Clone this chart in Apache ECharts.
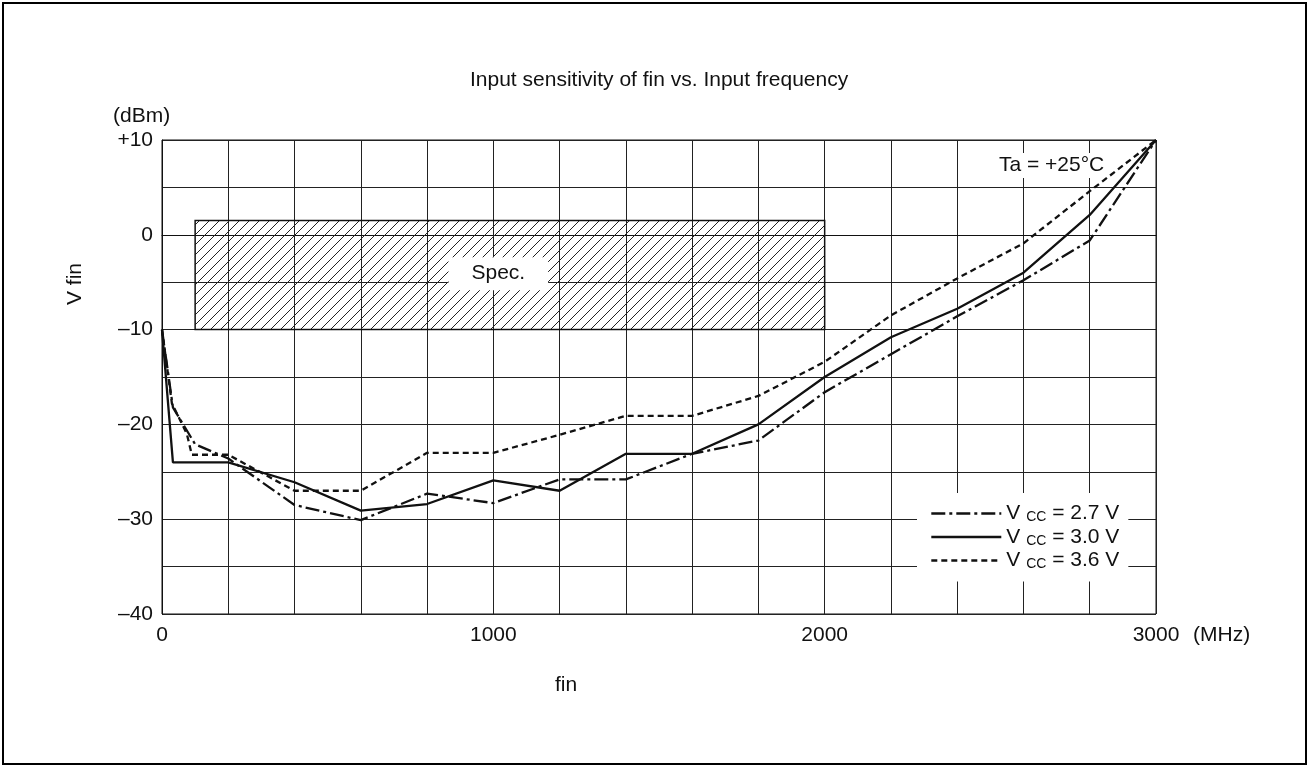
<!DOCTYPE html>
<html>
<head>
<meta charset="utf-8">
<script src="https://cdn.jsdelivr.net/npm/echarts@6/dist/echarts.min.js"></script>
<style>
html,body{margin:0;padding:0;background:#fff;}
#chart{width:1307px;height:766px;}
</style>
</head>
<body>
<div id="chart"></div>
<script>
// ---- data ----
const freq27 = [0, 33, 100, 200, 400, 600, 800, 1000, 1200, 1400, 1600, 1800, 2000, 2200, 2400, 2600, 2800, 3000];
const vcc27  = [-10, -18.2, -22.1, -23.6, -28.5, -30.1, -27.3, -28.3, -25.8, -25.8, -23.1, -21.7, -16.6, -12.6, -8.6, -4.8, -0.6, 10];

const freq30 = [0, 33, 200, 400, 600, 800, 1000, 1200, 1400, 1600, 1800, 2000, 2200, 2400, 2600, 2800, 3000];
const vcc30  = [-10, -24.0, -24.0, -26.1, -29.1, -28.4, -25.9, -27.0, -23.1, -23.1, -20.0, -15.0, -10.8, -7.8, -4.0, 2.1, 10];

const freq36 = [0, 30, 75, 90, 200, 400, 600, 800, 1000, 1200, 1400, 1600, 1800, 2000, 2200, 2400, 2600, 2800, 3000];
const vcc36  = [-10, -17.8, -21.0, -23.2, -23.2, -27.0, -27.0, -23.0, -23.0, -21.1, -19.1, -19.1, -17.0, -13.4, -8.5, -4.6, -0.9, 4.6, 10];

const seriesNames = ['2.7 V', '3.0 V', '3.6 V'];
const specFreq = [100, 2000];
const specLevel = [-10, 1.5];
const xTickLabels = [0, 1000, 2000, 3000];
const yTickLabels = { '10': '+10', '0': '0', '-10': '–10', '-20': '–20', '-30': '–30', '-40': '–40' };

const FONT = "'Liberation Sans', Arial, sans-serif";
const INK = '#111';

function pairs(xs, ys) { return xs.map((x, i) => [x, ys[i]]); }

// hatch pattern
const pc = document.createElement('canvas');
pc.width = 10; pc.height = 10;
const g = pc.getContext('2d');
g.strokeStyle = '#222';
g.lineWidth = 1;
g.beginPath();
g.moveTo(-1, 11); g.lineTo(11, -1);
g.moveTo(-1, 1); g.lineTo(1, -1);
g.moveTo(9, 11); g.lineTo(11, 9);
g.stroke();

const chart = echarts.init(document.getElementById('chart'), null, { renderer: 'canvas' });

const lineTypes = [[14, 4, 3, 4], 'solid', [6, 4]];
const dataSets = [pairs(freq27, vcc27), pairs(freq30, vcc30), pairs(freq36, vcc36)];

const series = dataSets.map((d, i) => ({
  name: 'Vcc = ' + seriesNames[i],
  type: 'line',
  data: d,
  symbol: 'none',
  showSymbol: false,
  z: 5,
  lineStyle: { color: INK, width: 2.3, type: lineTypes[i] },
  itemStyle: { color: INK }
}));

series[1].markArea = {
  silent: true,
  z: 1,
  itemStyle: {
    color: { image: pc, repeat: 'repeat' },
    borderColor: INK,
    borderWidth: 1.5
  },
  label: { show: false },
  data: [[{ xAxis: specFreq[0], yAxis: specLevel[1] }, { xAxis: specFreq[1], yAxis: specLevel[0] }]]
};

series[1].markPoint = {
  silent: true,
  symbol: 'rect',
  symbolSize: 1,
  itemStyle: { color: 'rgba(0,0,0,0)' },
  label: {
    show: true,
    position: 'inside',
    color: INK,
    fontFamily: FONT,
    fontSize: 21,
    backgroundColor: '#fff',
    padding: [6, 23]
  },
  data: [
    { coord: [1015, -4.1], label: { formatter: 'Spec.' } },
    { coord: [2685, 7.3], label: { formatter: 'Ta = +25°C', padding: [2, 4] } }
  ]
};

const option = {
  animation: false,
  backgroundColor: '#fff',
  title: {
    text: 'Input sensitivity of fin vs. Input frequency',
    left: 470,
    top: 70,
    padding: 0,
    textStyle: { fontFamily: FONT, fontSize: 21, fontWeight: 'normal', color: INK }
  },
  grid: {
    left: 162, right: 151, top: 140, bottom: 152,
    show: true, borderColor: INK, borderWidth: 1, backgroundColor: 'transparent'
  },
  legend: {
    orient: 'vertical',
    left: 917,
    top: 493,
    padding: [10, 9, 10, 13],
    backgroundColor: '#fff',
    itemWidth: 70,
    itemHeight: 14,
    itemGap: 2,
    itemStyle: { opacity: 0, borderWidth: 0 },
    lineStyle: { width: 2.6 },
    data: series.map(s => ({ name: s.name })),
    formatter: function (name) {
      const v = name.split('= ')[1];
      return '{a|V }{b|CC}{a| = ' + v + '}';
    },
    textStyle: {
      color: INK,
      fontFamily: FONT,
      rich: {
        a: { fontFamily: FONT, fontSize: 21, color: INK, lineHeight: 22 },
        b: { fontFamily: FONT, fontSize: 14, color: INK, lineHeight: 22, verticalAlign: 'bottom' }
      }
    }
  },
  xAxis: {
    type: 'value',
    min: 0, max: 3000, interval: 200,
    axisLine: { show: true, lineStyle: { color: INK, width: 1 } },
    axisTick: { show: false },
    splitLine: { show: true, lineStyle: { color: '#222', width: 1 } },
    axisLabel: {
      margin: 11,
      fontFamily: FONT, fontSize: 21, color: INK,
      formatter: v => (xTickLabels.indexOf(v) >= 0 ? String(v) : '')
    }
  },
  yAxis: {
    type: 'value',
    min: -40, max: 10, interval: 5,
    axisLine: { show: true, lineStyle: { color: INK, width: 1 } },
    axisTick: { show: false },
    splitLine: { show: true, lineStyle: { color: '#222', width: 1 } },
    axisLabel: {
      margin: 9,
      fontFamily: FONT, fontSize: 21, color: INK,
      formatter: v => (yTickLabels[String(v)] !== undefined ? yTickLabels[String(v)] : '')
    }
  },
  graphic: [
    { type: 'rect', silent: true, z: 100,
      shape: { x: 3, y: 3, width: 1303, height: 761 },
      style: { fill: null, stroke: '#000', lineWidth: 2 } },
    { type: 'text', left: 113, top: 106,
      style: { text: '(dBm)', font: "21px " + FONT, fill: INK } },
    { type: 'text', left: 1193, top: 625,
      style: { text: '(MHz)', font: "21px " + FONT, fill: INK } },
    { type: 'text', left: 555, top: 675,
      style: { text: 'fin', font: "21px " + FONT, fill: INK } },
    { type: 'text', left: 65, top: 263, rotation: Math.PI / 2,
      style: { text: 'V fin', font: "21px " + FONT, fill: INK } }
  ],
  series: series
};

chart.setOption(option);
</script>
</body>
</html>
